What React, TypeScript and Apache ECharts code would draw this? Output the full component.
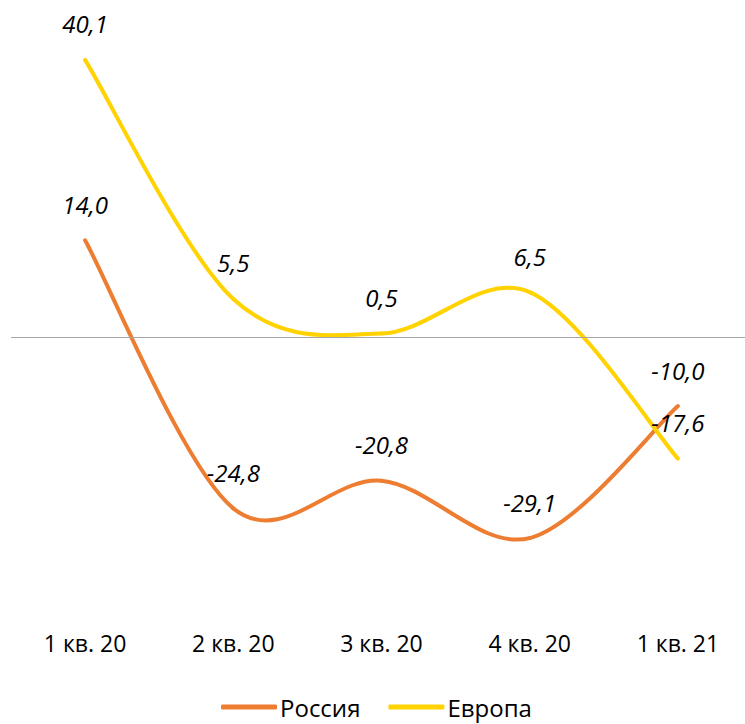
import React, { useEffect, useRef } from "react";
import * as echarts from "echarts";

const categories = ["1 кв. 20", "2 кв. 20", "3 кв. 20", "4 кв. 20", "1 кв. 21"];
const russia = [14.0, -24.8, -20.8, -29.1, -10.0];
const europe = [40.1, 5.5, 0.5, 6.5, -17.6];

const FONT = "'Open Sans', 'Noto Sans', sans-serif";

function smoothSeries(name: string, values: number[], color: string, z: number) {
  return {
    name,
    type: "custom",
    data: values.map((v, i) => [i, v]),
    z,
    silent: true,
    itemStyle: { color },
    renderItem: (params: any, api: any) => {
      const i = params.dataIndex;
      if (i >= values.length - 1) return null;
      const pt = (j: number) => {
        const k = Math.max(0, Math.min(values.length - 1, j));
        return api.coord([k, values[k]]);
      };
      const p0 = pt(i - 1);
      const p1 = pt(i);
      const p2 = pt(i + 1);
      const p3 = pt(i + 2);
      const c1 = [p1[0] + (p2[0] - p0[0]) / 6, p1[1] + (p2[1] - p0[1]) / 6];
      const c2 = [p2[0] - (p3[0] - p1[0]) / 6, p2[1] - (p3[1] - p1[1]) / 6];
      return {
        type: "bezierCurve",
        shape: {
          x1: p1[0], y1: p1[1],
          cpx1: c1[0], cpy1: c1[1],
          cpx2: c2[0], cpy2: c2[1],
          x2: p2[0], y2: p2[1],
        },
        style: { stroke: color, lineWidth: 4, fill: "none", lineCap: "round" },
      };
    },
  };
}

export default function App() {
  const ref = useRef<HTMLDivElement>(null);
  useEffect(() => {
    const chart = echarts.init(ref.current!, null, { renderer: "svg" });
    const label = {
      show: true,
      position: "top" as const,
      distance: 24,
      fontFamily: FONT,
      fontStyle: "italic" as const,
      fontSize: 24,
      color: "#000",
      formatter: (p: any) => p.value.toFixed(1).replace(".", ","),
    };
    const labelSeries = (name: string, values: number[]) => ({
      name,
      type: "line",
      data: values,
      showSymbol: true,
      symbol: "circle",
      symbolSize: 0.1,
      silent: true,
      lineStyle: { width: 0, color: "rgba(0,0,0,0)" },
      itemStyle: { color: "rgba(0,0,0,0)", borderWidth: 0 },
      label,
      z: 10,
    });
    chart.setOption({
      animation: false,
      grid: { left: 11, width: 741, top: 26, bottom: 110.6, outerBoundsMode: "none", containLabel: false },
      legend: {
        bottom: 0,
        left: 216,
        itemWidth: 56,
        itemHeight: 5,
        itemGap: 28,
        icon: "roundRect",
        textStyle: { fontFamily: FONT, fontSize: 24, color: "#000", padding: [0, 0, 0, -2] },
        data: ["Россия", "Европа"],
      },
      xAxis: {
        type: "category",
        data: categories,
        boundaryGap: true,
        position: "bottom",
        axisLine: { show: false, onZero: false },
        axisTick: { show: false },
        axisLabel: { fontFamily: FONT, fontSize: 23, color: "#000", margin: 18 },
      },
      yAxis: {
        type: "value",
        min: -40,
        max: 45,
        axisLine: { show: false },
        axisTick: { show: false },
        axisLabel: { show: false },
        splitLine: { show: false },
      },
      series: [
        {
          name: "zero",
          type: "line",
          data: [],
          markLine: {
            silent: true,
            symbol: "none",
            label: { show: false },
            lineStyle: { color: "#A6A6A6", width: 1, type: "solid" },
            data: [{ yAxis: 0 }],
          },
          z: 1,
        },
        smoothSeries("Россия", russia, "#ED7D31", 3),
        smoothSeries("Европа", europe, "#FFD200", 4),
        labelSeries("Россия ", russia),
        labelSeries("Европа ", europe),
      ],
    });
    return () => chart.dispose();
  }, []);
  return (
    <div
      ref={ref}
      style={{ position: "fixed", left: 0, top: 0, width: 745, height: 724, background: "#fff" }}
    />
  );
}
